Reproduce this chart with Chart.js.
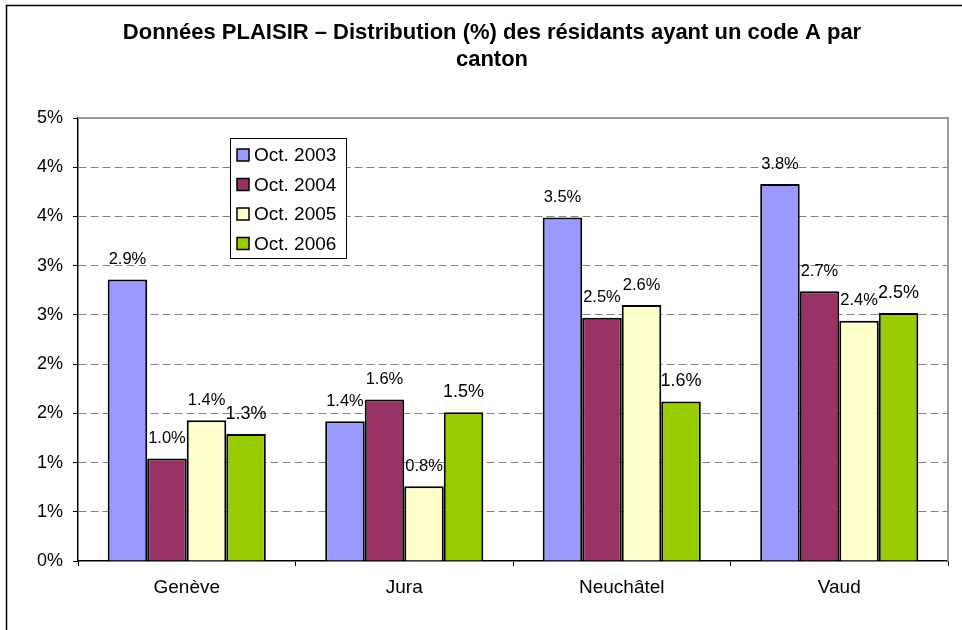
<!DOCTYPE html>
<html>
<head>
<meta charset="utf-8">
<script src="https://cdn.jsdelivr.net/npm/chart.js@4/dist/chart.umd.min.js"></script>
<style>
  html, body { margin: 0; padding: 0; background: #fff; }
  #wrap { position: relative; width: 962px; height: 630px; }
</style>
</head>
<body>
<div id="wrap"><canvas id="c" width="962" height="630"></canvas></div>
<script>
const categories = ['Genève', 'Jura', 'Neuchâtel', 'Vaud'];
const seriesNames = ['Oct. 2003', 'Oct. 2004', 'Oct. 2005', 'Oct. 2006'];
const oct2003 = [2.86, 1.42, 3.49, 3.83];
const oct2004 = [1.04, 1.64, 2.47, 2.74];
const oct2005 = [1.43, 0.76, 2.60, 2.44];
const oct2006 = [1.29, 1.51, 1.62, 2.52];
const seriesColors = ['#9999FF', '#993366', '#FFFFCC', '#99CC00'];
const titleLines = ['Données PLAISIR – Distribution (%) des résidants ayant un code A par', 'canton'];

const FONT = 'Arial, "Liberation Sans", sans-serif';
const allSeries = [oct2003, oct2004, oct2005, oct2006];

const frame = {
  id: 'frame',
  beforeDraw(chart) {
    const ctx = chart.ctx;
    ctx.save();
    ctx.fillStyle = '#fff';
    ctx.fillRect(0, 0, chart.width, chart.height);
    ctx.strokeStyle = '#000';
    ctx.lineWidth = 1.5;
    ctx.beginPath();
    ctx.moveTo(6.5, chart.height);
    ctx.lineTo(6.5, 5.5);
    ctx.lineTo(chart.width, 5.5);
    ctx.stroke();
    ctx.restore();
  },
  beforeDatasetsDraw(chart) {
    const {ctx, chartArea: a} = chart;
    ctx.save();
    ctx.strokeStyle = '#999';
    ctx.lineWidth = 2;
    ctx.beginPath();
    ctx.moveTo(a.left, a.top);
    ctx.lineTo(a.right, a.top);
    ctx.lineTo(a.right, a.bottom);
    ctx.stroke();
    ctx.restore();
  }
};

const valueLabels = {
  id: 'valueLabels',
  afterDatasetsDraw(chart) {
    const ctx = chart.ctx;
    ctx.save();
    ctx.fillStyle = '#000';
    ctx.textAlign = 'center';
    ctx.textBaseline = 'middle';
    chart.data.datasets.forEach((ds, di) => {
      const meta = chart.getDatasetMeta(di);
      ctx.font = (di === 3 ? '18px ' : '16.5px ') + FONT;
      meta.data.forEach((bar, i) => {
        const v = ds.data[i];
        ctx.fillText(v.toFixed(1) + '%', bar.x, bar.y - 20);
      });
    });
    ctx.restore();
  }
};

const boxLegend = {
  id: 'boxLegend',
  afterDraw(chart) {
    const ctx = chart.ctx;
    const x0 = 230.5, y0 = 138.5, w = 116, h = 120;
    ctx.save();
    ctx.fillStyle = '#fff';
    ctx.fillRect(x0, y0, w, h);
    ctx.strokeStyle = '#000';
    ctx.lineWidth = 1;
    ctx.strokeRect(x0, y0, w, h);
    ctx.font = '19px ' + FONT;
    ctx.textBaseline = 'middle';
    ctx.textAlign = 'left';
    chart.data.datasets.forEach((ds, i) => {
      const cy = 155 + i * 29.5;
      ctx.fillStyle = ds.backgroundColor;
      ctx.fillRect(237, cy - 6, 12, 12);
      ctx.lineWidth = 1.5;
      ctx.strokeStyle = '#000';
      ctx.strokeRect(237, cy - 6, 12, 12);
      ctx.fillStyle = '#000';
      ctx.fillText(ds.label, 254, cy + 1);
    });
    ctx.restore();
  }
};

new Chart(document.getElementById('c'), {
  type: 'bar',
  data: {
    labels: categories,
    datasets: allSeries.map((d, i) => ({
      label: seriesNames[i],
      data: d,
      backgroundColor: seriesColors[i],
      borderColor: '#000',
      borderWidth: 2,
      categoryPercentage: 0.727,
      barPercentage: 1.0
    }))
  },
  options: {
    responsive: false,
    animation: false,
    devicePixelRatio: 1,
    layout: { padding: { left: 36, right: 14, top: 0, bottom: 0 } },
    plugins: {
      legend: { display: false },
      tooltip: { enabled: false },
      title: {
        display: true,
        text: titleLines,
        color: '#000',
        font: { family: FONT, size: 22, weight: 'bold', lineHeight: 1.23 },
        padding: { top: 19.5, bottom: 44.4 }
      }
    },
    scales: {
      x: {
        grid: { display: true, drawOnChartArea: false, drawTicks: true, tickLength: 5, offset: true, tickColor: '#000', tickBorderDash: [] },
        border: { display: true, color: '#000', width: 1.5 },
        ticks: { color: '#000', font: { family: FONT, size: 19 }, padding: 10, maxRotation: 0 },
        afterFit(s) { s.height = 69; }
      },
      y: {
        min: 0,
        max: 4.5,
        grid: {
          color: (c) => (c.tick && c.tick.value === 0) ? 'rgba(0,0,0,0)' : '#808080',
          tickColor: '#000',
          tickLength: 5,
          tickBorderDash: []
        },
        border: { display: true, color: '#000', width: 1.5, dash: [8, 4] },
        ticks: {
          stepSize: 0.5,
          color: '#000',
          padding: 10,
          font: { family: FONT, size: 18 },
          callback: (v) => Math.round(v) + '%'
        },
        afterFit(s) { s.width = 42; }
      }
    }
  },
  plugins: [frame, valueLabels, boxLegend]
});
</script>
</body>
</html>
